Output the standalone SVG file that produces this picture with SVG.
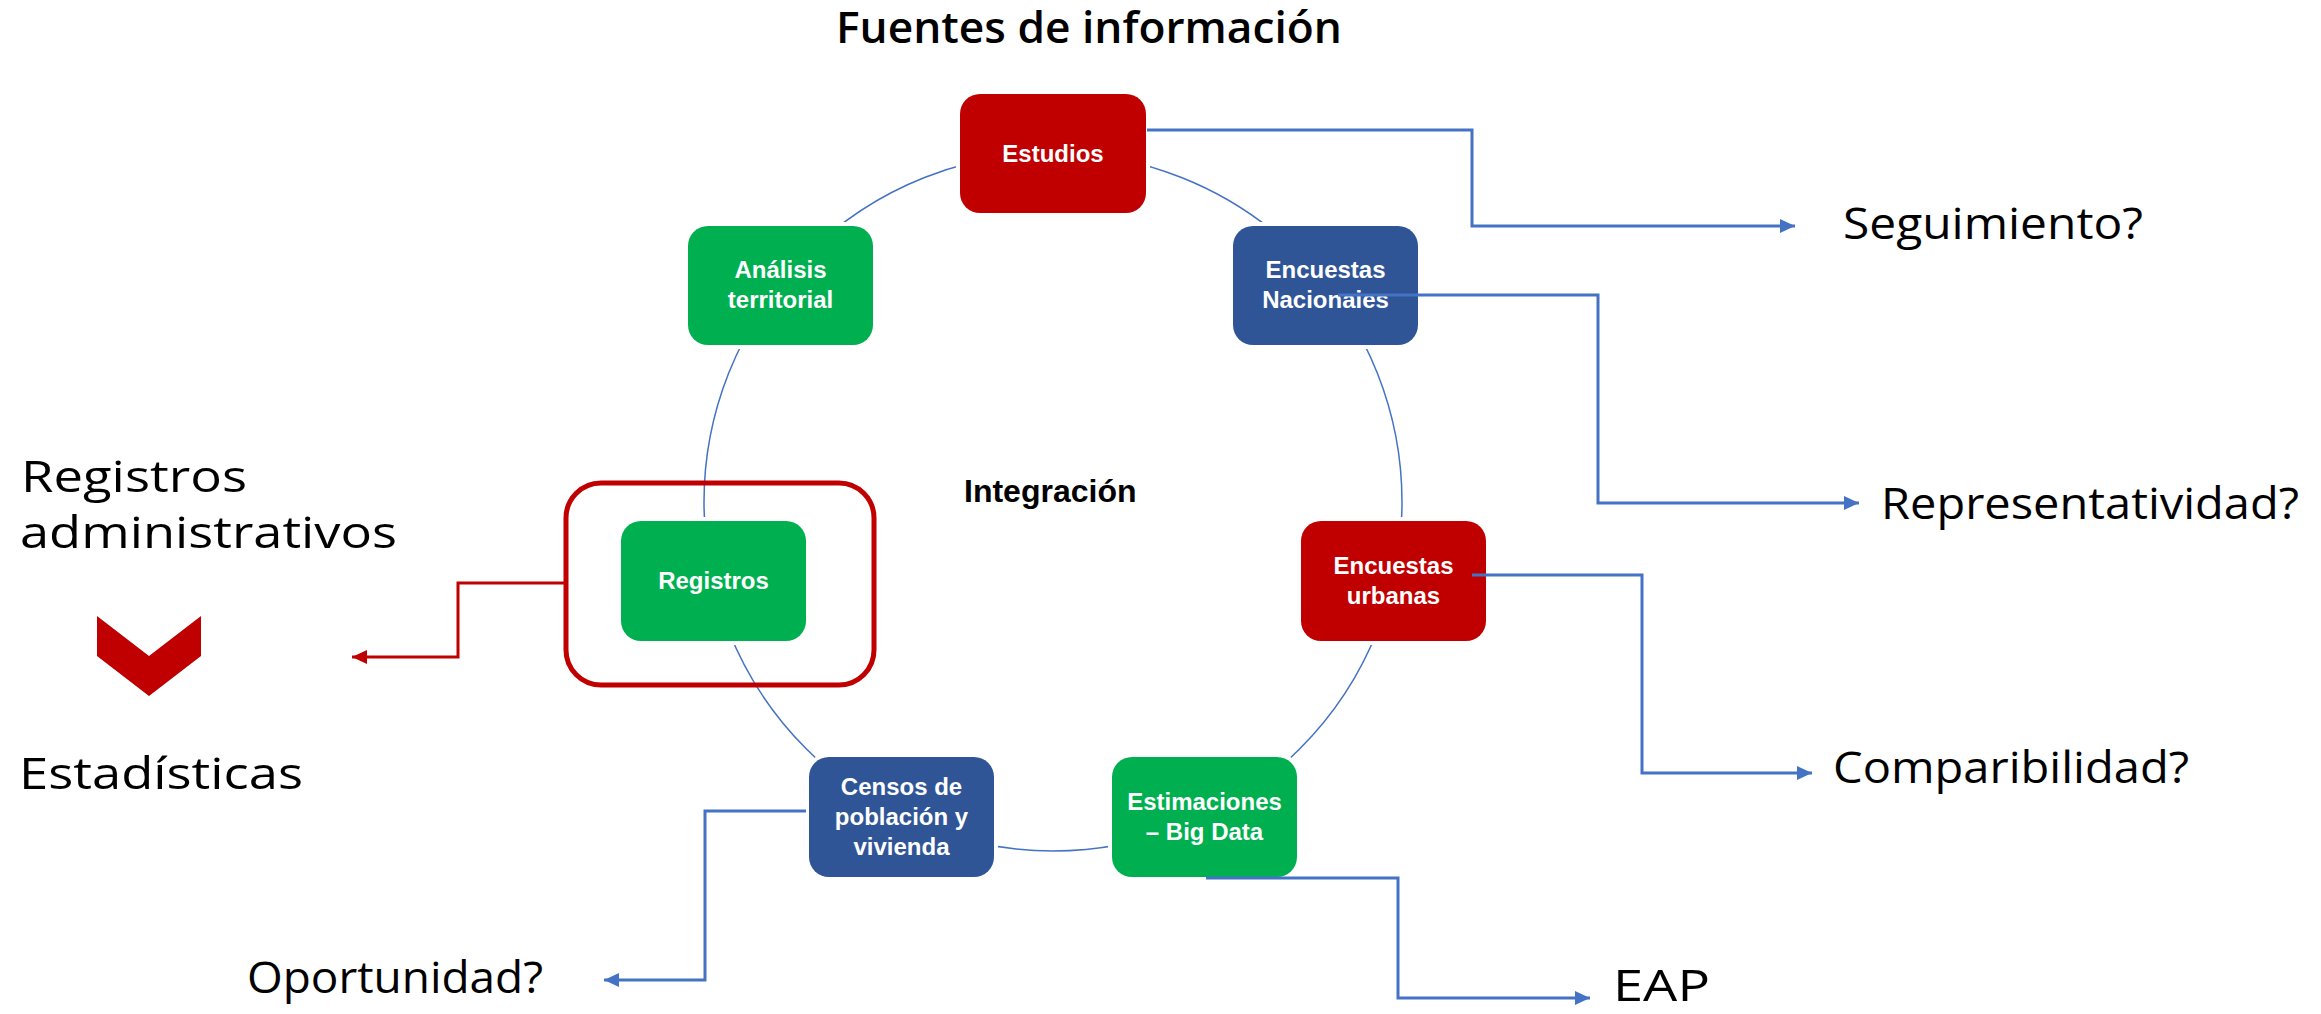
<svg xmlns="http://www.w3.org/2000/svg" width="2321" height="1014" viewBox="0 0 2321 1014">
<style>
.box{stroke:#fff;stroke-width:8;paint-order:stroke}
.red{fill:#C00000}
.green{fill:#00B050}
.blue{fill:#2F5597}
.bt{font-family:"Liberation Sans",Arial,sans-serif;font-weight:bold;font-size:24px;fill:#fff;text-anchor:middle}
.lbl{font-family:"Open Sans","Liberation Sans",sans-serif;font-size:44px;fill:#000}
.conn{fill:none;stroke:#4472C4;stroke-width:3}
.rconn{fill:none;stroke:#C00000;stroke-width:3}
</style>
<defs>
<marker id="ab" markerUnits="userSpaceOnUse" markerWidth="16" markerHeight="16" refX="15" refY="7" orient="auto"><path d="M0,0 L15,7 L0,14 z" fill="#4472C4"/></marker>
<marker id="ar" markerUnits="userSpaceOnUse" markerWidth="16" markerHeight="16" refX="15" refY="7" orient="auto"><path d="M0,0 L15,7 L0,14 z" fill="#C00000"/></marker>
</defs>
<rect width="2321" height="1014" fill="#fff"/>
<g id="ring"><circle cx="1053" cy="502" r="349" fill="none" stroke="#4472C4" stroke-width="1.5"/></g>
<g id="title"><text class="lbl" x="836" y="43" font-weight="600" textLength="506" lengthAdjust="spacingAndGlyphs">Fuentes de información</text></g>
<g id="integracion"><text x="964" y="502" font-family="Liberation Sans,Arial,sans-serif" font-weight="bold" font-size="32" fill="#000">Integración</text></g>
<g id="estudios"><rect class="box red" x="960" y="94" width="186" height="119" rx="20"/><text class="bt" x="1053" y="162">Estudios</text></g>
<g id="analisis"><rect class="box green" x="688" y="226" width="185" height="119" rx="20"/><text class="bt" x="780.5" y="278">Análisis</text><text class="bt" x="780.5" y="308">territorial</text></g>
<g id="enc-nac"><rect class="box blue" x="1233" y="226" width="185" height="119" rx="20"/><text class="bt" x="1325.5" y="278">Encuestas</text><text class="bt" x="1325.5" y="308">Nacionaies</text></g>
<g id="registros-frame"><rect x="566" y="483" width="308" height="202" rx="35" fill="none" stroke="#C00000" stroke-width="5"/></g>
<g id="registros"><rect class="box green" x="621" y="521" width="185" height="120" rx="20"/><text class="bt" x="713.5" y="589">Registros</text></g>
<g id="enc-urb"><rect class="box red" x="1301" y="521" width="185" height="120" rx="20"/><text class="bt" x="1393.5" y="574">Encuestas</text><text class="bt" x="1393.5" y="604">urbanas</text></g>
<g id="censos"><rect class="box blue" x="809" y="757" width="185" height="120" rx="20"/><text class="bt" x="901.5" y="795">Censos de</text><text class="bt" x="901.5" y="825">población y</text><text class="bt" x="901.5" y="855">vivienda</text></g>
<g id="estimaciones"><rect class="box green" x="1112" y="757" width="185" height="120" rx="20"/><text class="bt" x="1204.5" y="810">Estimaciones</text><text class="bt" x="1204.5" y="840">– Big Data</text></g>
<g id="connectors">
<path class="conn" d="M1147,130 H1472 V226 H1795" marker-end="url(#ab)"/>
<path class="conn" d="M1338,295 H1598 V503 H1859" marker-end="url(#ab)"/>
<path class="conn" d="M1472,575 H1642 V773 H1812" marker-end="url(#ab)"/>
<path class="conn" d="M1206,878 H1398 V998 H1590" marker-end="url(#ab)"/>
<path class="conn" d="M806,811 H705 V980 H604" marker-end="url(#ab)"/>
<path class="rconn" d="M564,583 H458 V657 H352" marker-end="url(#ar)"/>
</g>
<g id="chevron"><polygon points="97,616 149,656 201,616 201,656 149,696 97,656" fill="#C00000"/></g>
<g id="labels">
<text class="lbl" x="1843" y="239" textLength="300" lengthAdjust="spacingAndGlyphs">Seguimiento?</text>
<text class="lbl" x="1881" y="519" textLength="418" lengthAdjust="spacingAndGlyphs">Representatividad?</text>
<text class="lbl" x="1833" y="783" textLength="356" lengthAdjust="spacingAndGlyphs">Comparibilidad?</text>
<text class="lbl" x="247" y="993" textLength="296" lengthAdjust="spacingAndGlyphs">Oportunidad?</text>
<text class="lbl" x="1613" y="1001" textLength="97" lengthAdjust="spacingAndGlyphs">EAP</text>
<text class="lbl" x="21" y="492" textLength="226" lengthAdjust="spacingAndGlyphs">Registros</text>
<text class="lbl" x="20" y="548" textLength="377" lengthAdjust="spacingAndGlyphs">administrativos</text>
<text class="lbl" x="19" y="789" textLength="284" lengthAdjust="spacingAndGlyphs">Estadísticas</text>
</g>
</svg>
